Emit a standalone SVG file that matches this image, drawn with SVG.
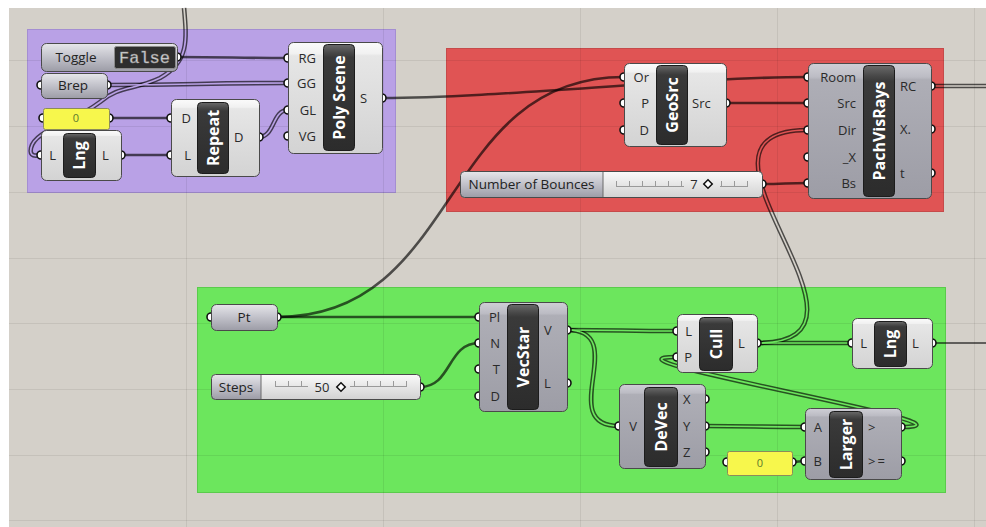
<svg xmlns="http://www.w3.org/2000/svg" xmlns:xlink="http://www.w3.org/1999/xlink" width="986" height="527" viewBox="0 0 986 527">
<style>
.lbl{font-family:'Open Sans','Liberation Sans',sans-serif;font-size:13px;fill:#2a2a2a}
.nm{font-family:'Open Sans','Liberation Sans',sans-serif;font-size:13.5px;fill:#222;text-anchor:middle}
.in{text-anchor:end}
.out{text-anchor:start}
.ttl{font-family:'Open Sans','Liberation Sans',sans-serif;font-weight:bold;font-size:16px;fill:#fff;text-anchor:middle}
.port{fill:#fff;stroke:#111;stroke-width:1.6}
.bl{fill:url(#gLight);stroke:#4a4a4a;stroke-width:1}
.bg{fill:url(#gGray);stroke:#4a4a4a;stroke-width:1}
.bp{fill:url(#gParam);stroke:#4a4a4a;stroke-width:1}
.dk{fill:url(#gDark);stroke:#1c1c1c;stroke-width:1}
.pan{fill:#f7f74c;stroke:#8c8c5a;stroke-width:1}
.pv{font-family:'Open Sans','Liberation Sans',sans-serif;font-size:11px;fill:#5c7a2c;text-anchor:middle}
.tick{fill:none;stroke:#9a9a9a;stroke-width:1}
.dia{fill:#fff;stroke:#111;stroke-width:1.5}
.grid{stroke:#000;stroke-opacity:0.07;stroke-width:1}
</style>
<defs>
<linearGradient id="gLight" x1="0" y1="0" x2="0" y2="1"><stop offset="0" stop-color="#fbfbfb"/><stop offset="0.1" stop-color="#f1f1f1"/><stop offset="0.12" stop-color="#e6e6e6"/><stop offset="1" stop-color="#d3d3d3"/></linearGradient>
<linearGradient id="gGray" x1="0" y1="0" x2="0" y2="1"><stop offset="0" stop-color="#cfcfd6"/><stop offset="0.1" stop-color="#bcbcc4"/><stop offset="0.12" stop-color="#aeaeb6"/><stop offset="1" stop-color="#9d9da6"/></linearGradient>
<linearGradient id="gParam" x1="0" y1="0" x2="0" y2="1"><stop offset="0" stop-color="#e6e6ea"/><stop offset="0.45" stop-color="#c4c4cc"/><stop offset="1" stop-color="#9c9ca6"/></linearGradient>
<linearGradient id="gDark" x1="0" y1="0" x2="0" y2="1"><stop offset="0" stop-color="#6a6a6a"/><stop offset="0.08" stop-color="#484848"/><stop offset="0.12" stop-color="#3a3a3a"/><stop offset="1" stop-color="#2c2c2c"/></linearGradient>
<linearGradient id="gSlide" x1="0" y1="0" x2="0" y2="1"><stop offset="0" stop-color="#fafafa"/><stop offset="1" stop-color="#d2d2d2"/></linearGradient>
<mask id="dmask" maskUnits="userSpaceOnUse" x="0" y="0" width="986" height="527">
<rect x="0" y="0" width="986" height="527" fill="#fff"/>
<g fill="none" stroke="#000" stroke-width="1.7">
<use href="#d1"/><use href="#d2"/><use href="#d3"/><use href="#d4"/><use href="#d5"/><use href="#d6"/><use href="#d7"/><use href="#d8"/><use href="#d9"/><use href="#d10"/>
</g>
</mask>
</defs>

<rect x="0" y="0" width="986" height="527" fill="#fff"/>
<rect x="9" y="8" width="977" height="519" fill="#d4d0c9"/>

<g id="groups">
<rect x="27.5" y="29.5" width="368" height="163" fill="#b9a1e6" stroke="#a48ed2"/>
<rect x="446.5" y="48.5" width="497" height="163" fill="#e05454" stroke="#c64a4a"/>
<rect x="197.5" y="287.5" width="748" height="205" fill="#6ce65d" stroke="#5acb4c"/>
</g>

<g id="grid" class="grid">
<line x1="186.5" y1="8" x2="186.5" y2="527"/>
<line x1="383.5" y1="8" x2="383.5" y2="527"/>
<line x1="580.5" y1="8" x2="580.5" y2="527"/>
<line x1="777.5" y1="8" x2="777.5" y2="527"/>
<line x1="974.5" y1="8" x2="974.5" y2="527"/>
<line x1="9" y1="60.5" x2="986" y2="60.5"/>
<line x1="9" y1="126.5" x2="986" y2="126.5"/>
<line x1="9" y1="192.5" x2="986" y2="192.5"/>
<line x1="9" y1="258.5" x2="986" y2="258.5"/>
<line x1="9" y1="323.5" x2="986" y2="323.5"/>
<line x1="9" y1="389.5" x2="986" y2="389.5"/>
<line x1="9" y1="455.5" x2="986" y2="455.5"/>
<line x1="9" y1="520.5" x2="986" y2="520.5"/>
</g>

<g id="connectors" fill="none">
<g stroke="#000" stroke-opacity="0.64" stroke-width="2.6">
<path d="M177 57 C230 57 235 58 288 58"/>
<path d="M109 118 C140 118 140 118 171 118"/>
<path d="M121 155 C146 155 146 155 171 155"/>
<path d="M382 98 C500 98 690 77 808 77"/>
<path d="M726 103 C767 103 767 103 808 103"/>
<path d="M762 184 C785 184 785 183 808 183"/>
<path d="M277 317 H479"/>
<path d="M277 317 C462 317 439 77 624 77"/>
<path d="M420 387 C452 387 447 343 479 343"/>
<path d="M792 462 C798 462 799 461 805 461"/>
</g>
<path d="M932 343 H986" stroke="#000" stroke-opacity="0.55" stroke-width="2.2"/>
<g stroke="#000" stroke-opacity="0.64" stroke-width="4.6" mask="url(#dmask)">
<path id="d1" d="M184 8 C187 40 189 62 160 78 C135 90 118 86 100 102 C70 125 35 130 31 148 C29 157 36 156 41 155"/>
<path id="d2" d="M107 85 C200 85 195 83 288 83"/>
<path id="d3" d="M259 137 C275 137 272 110 288 110"/>
<path id="d4" d="M931 86 H986"/>
<path id="d5" d="M757 343 C907 343 658 130 808 130"/>
<path id="d6" d="M567 330 C620 330 624 331 677 331"/>
<path id="d7" d="M567 330 C632 330 554 426 619 426"/>
<path id="d8" d="M757 343 H852"/>
<path id="d9" d="M705 426 C755 426 755 427 805 427"/>
<path id="d10" d="M901 427 C1001 427 577 357 677 357"/>
</g>
</g>

<g id="toggle">
<circle class="port" cx="177" cy="57" r="4"/>
<rect class="bp" x="41.5" y="43.5" width="136" height="28" rx="5"/>
<rect x="114.5" y="46.5" width="61" height="22" rx="2" fill="#2e2e2e" stroke="#8c8c8c"/>
<text class="nm" x="76" y="61.5">Toggle</text>
<text x="144.5" y="63" font-family="'Liberation Mono',monospace" font-size="17" fill="#dcdcdc" stroke="#8a8a8a" stroke-width="0.5" text-anchor="middle">False</text>
</g>

<g id="brep">
<circle class="port" cx="41" cy="85" r="4"/>
<circle class="port" cx="107" cy="85" r="4"/>
<rect class="bp" x="41.5" y="73.5" width="66" height="25" rx="5"/>
<text class="nm" x="73" y="90">Brep</text>
</g>

<g id="panel-zero-1">
<circle class="port" cx="43" cy="118" r="4"/>
<circle class="port" cx="109" cy="118" r="4"/>
<rect class="pan" x="43.5" y="108.5" width="66" height="21" rx="2"/>
<text class="pv" x="76" y="122">0</text>
</g>

<g id="lng-1">
<circle class="port" cx="41" cy="155" r="4"/>
<circle class="port" cx="121" cy="155" r="4"/>
<rect class="bl" x="41.5" y="130.5" width="80" height="50" rx="5"/>
<rect class="dk" x="63.5" y="133.5" width="32" height="44" rx="4"/>
<text class="lbl in" x="56" y="159.5">L</text>
<text class="lbl out" x="102" y="159.5">L</text>
<text class="ttl" transform="translate(79.5,155.5) rotate(-90)" y="5.5">Lng</text>
</g>

<g id="repeat">
<circle class="port" cx="171" cy="118" r="4"/>
<circle class="port" cx="171" cy="155" r="4"/>
<circle class="port" cx="259" cy="137" r="4"/>
<rect class="bl" x="171.5" y="99.5" width="88" height="77" rx="5"/>
<rect class="dk" x="197.5" y="102.5" width="31" height="71" rx="4"/>
<text class="lbl in" x="191" y="122.5">D</text>
<text class="lbl in" x="191" y="159.5">L</text>
<text class="lbl out" x="234" y="141.5">D</text>
<text class="ttl" transform="translate(213,138) rotate(-90)" y="5.5">Repeat</text>
</g>

<g id="poly-scene">
<circle class="port" cx="288" cy="58" r="4"/>
<circle class="port" cx="288" cy="83" r="4"/>
<circle class="port" cx="288" cy="110" r="4"/>
<circle class="port" cx="288" cy="136" r="4"/>
<circle class="port" cx="382" cy="98" r="4"/>
<rect class="bl" x="288.5" y="42.5" width="94" height="111" rx="5"/>
<rect class="dk" x="323.5" y="44.5" width="31" height="106" rx="4"/>
<text class="lbl in" x="316" y="62.5">RG</text>
<text class="lbl in" x="316" y="87.5">GG</text>
<text class="lbl in" x="316" y="114.5">GL</text>
<text class="lbl in" x="316" y="140.5">VG</text>
<text class="lbl out" x="360" y="102.5">S</text>
<text class="ttl" transform="translate(339,97.5) rotate(-90)" y="5.5">Poly Scene</text>
</g>

<g id="geosrc">
<circle class="port" cx="624" cy="77" r="4"/>
<circle class="port" cx="624" cy="103" r="4"/>
<circle class="port" cx="624" cy="130" r="4"/>
<circle class="port" cx="726" cy="103" r="4"/>
<rect class="bl" x="624.5" y="63.5" width="102" height="83" rx="5"/>
<rect class="dk" x="656.5" y="65.5" width="31" height="79" rx="4"/>
<text class="lbl in" x="649" y="81.5">Or</text>
<text class="lbl in" x="649" y="107.5">P</text>
<text class="lbl in" x="649" y="134.5">D</text>
<text class="lbl out" x="692" y="107.5">Src</text>
<text class="ttl" transform="translate(672,105) rotate(-90)" y="5.5">GeoSrc</text>
</g>

<g id="pachvisrays">
<circle class="port" cx="808" cy="77" r="4"/>
<circle class="port" cx="808" cy="103" r="4"/>
<circle class="port" cx="808" cy="130" r="4"/>
<circle class="port" cx="808" cy="157" r="4"/>
<circle class="port" cx="808" cy="183" r="4"/>
<circle class="port" cx="931" cy="86" r="4"/>
<circle class="port" cx="931" cy="129" r="4"/>
<circle class="port" cx="931" cy="173" r="4"/>
<rect class="bg" x="808.5" y="63.5" width="123" height="135" rx="5"/>
<rect class="dk" x="863.5" y="65.5" width="31" height="131" rx="4"/>
<text class="lbl in" x="856" y="81.5">Room</text>
<text class="lbl in" x="856" y="107.5">Src</text>
<text class="lbl in" x="856" y="134.5">Dir</text>
<text class="lbl in" x="856" y="161.5">_X</text>
<text class="lbl in" x="856" y="187.5">Bs</text>
<text class="lbl out" x="900" y="90.5">RC</text>
<text class="lbl out" x="900" y="133.5">X.</text>
<text class="lbl out" x="900" y="177.5">t</text>
<text class="ttl" transform="translate(879,131) rotate(-90)" y="5.5">PachVisRays</text>
</g>

<g id="slider-bounces">
<circle class="port" cx="762" cy="184" r="4"/>
<rect x="460.5" y="171.5" width="302" height="26" rx="4" fill="url(#gSlide)"/>
<path d="M603 171.5 H464.5 a4 4 0 0 0 -4 4 V193.5 a4 4 0 0 0 4 4 H603 Z" fill="url(#gParam)"/>
<line x1="603" y1="171.5" x2="603" y2="197.5" stroke="#6a6a6a"/>
<rect x="460.5" y="171.5" width="302" height="26" rx="4" fill="none" stroke="#4a4a4a"/>
<path class="tick" d="M616 186.5 H684 M720 186.5 H748 M616.5 181 V186.5 M629.5 181 V186.5 M642.5 181 V186.5 M655.5 181 V186.5 M668.5 181 V186.5 M681.5 181 V186.5 M721.5 181 V186.5 M734.5 181 V186.5 M747.5 181 V186.5"/>
<text class="nm" x="531.5" y="188.5">Number of Bounces</text>
<text class="lbl" x="694" y="189" text-anchor="middle">7</text>
<rect class="dia" x="705" y="181" width="6" height="6" transform="rotate(45 708 184)"/>
</g>

<g id="pt">
<circle class="port" cx="211" cy="317" r="4"/>
<circle class="port" cx="277" cy="317" r="4"/>
<rect class="bp" x="211.5" y="304.5" width="66" height="26" rx="5"/>
<text class="nm" x="244" y="321.5">Pt</text>
</g>

<g id="slider-steps">
<circle class="port" cx="420" cy="387" r="4"/>
<rect x="211.5" y="374.5" width="209" height="25" rx="4" fill="url(#gSlide)"/>
<path d="M261 374.5 H215.5 a4 4 0 0 0 -4 4 V395.5 a4 4 0 0 0 4 4 H261 Z" fill="url(#gParam)"/>
<line x1="261" y1="374.5" x2="261" y2="399.5" stroke="#6a6a6a"/>
<rect x="211.5" y="374.5" width="209" height="25" rx="4" fill="none" stroke="#4a4a4a"/>
<path class="tick" d="M275 386.5 H308 M350 386.5 H407 M275.5 381 V386.5 M288.5 381 V386.5 M301.5 381 V386.5 M354.5 381 V386.5 M367.5 381 V386.5 M380.5 381 V386.5 M393.5 381 V386.5 M406.5 381 V386.5"/>
<text class="nm" x="236" y="391.5">Steps</text>
<text class="lbl" x="322" y="391.5" text-anchor="middle">50</text>
<rect class="dia" x="338" y="384" width="6" height="6" transform="rotate(45 341 387)"/>
</g>

<g id="vecstar">
<circle class="port" cx="479" cy="317" r="4"/>
<circle class="port" cx="479" cy="343" r="4"/>
<circle class="port" cx="479" cy="369" r="4"/>
<circle class="port" cx="479" cy="396" r="4"/>
<circle class="port" cx="567" cy="330" r="4"/>
<circle class="port" cx="567" cy="383" r="4"/>
<rect class="bg" x="479.5" y="302.5" width="88" height="109" rx="5"/>
<rect class="dk" x="507.5" y="304.5" width="31" height="105" rx="4"/>
<text class="lbl in" x="500" y="321.5">Pl</text>
<text class="lbl in" x="500" y="347.5">N</text>
<text class="lbl in" x="500" y="373.5">T</text>
<text class="lbl in" x="500" y="400.5">D</text>
<text class="lbl out" x="544" y="334.5">V</text>
<text class="lbl out" x="544" y="387.5">L</text>
<text class="ttl" transform="translate(523,357) rotate(-90)" y="5.5">VecStar</text>
</g>

<g id="cull">
<circle class="port" cx="677" cy="331" r="4"/>
<circle class="port" cx="677" cy="357" r="4"/>
<circle class="port" cx="757" cy="343" r="4"/>
<rect class="bl" x="677.5" y="314.5" width="80" height="58" rx="5"/>
<rect class="dk" x="699.5" y="317.5" width="33" height="53" rx="4"/>
<text class="lbl in" x="692" y="335.5">L</text>
<text class="lbl in" x="692" y="361.5">P</text>
<text class="lbl out" x="738" y="347.5">L</text>
<text class="ttl" transform="translate(716,344) rotate(-90)" y="5.5">Cull</text>
</g>

<g id="lng-2">
<circle class="port" cx="852" cy="343" r="4"/>
<circle class="port" cx="932" cy="343" r="4"/>
<rect class="bl" x="852.5" y="318.5" width="80" height="50" rx="5"/>
<rect class="dk" x="874.5" y="321.5" width="32" height="45" rx="4"/>
<text class="lbl in" x="867" y="347.5">L</text>
<text class="lbl out" x="912" y="347.5">L</text>
<text class="ttl" transform="translate(890.5,344) rotate(-90)" y="5.5">Lng</text>
</g>

<g id="devec">
<circle class="port" cx="619" cy="426" r="4"/>
<circle class="port" cx="705" cy="399" r="4"/>
<circle class="port" cx="705" cy="426" r="4"/>
<circle class="port" cx="705" cy="452" r="4"/>
<rect class="bg" x="619.5" y="384.5" width="86" height="84" rx="5"/>
<rect class="dk" x="644.5" y="387.5" width="33" height="79" rx="4"/>
<text class="lbl in" x="637" y="430.5">V</text>
<text class="lbl out" x="683" y="403.5">X</text>
<text class="lbl out" x="683" y="430.5">Y</text>
<text class="lbl out" x="683" y="456.5">Z</text>
<text class="ttl" transform="translate(661,427) rotate(-90)" y="5.5">DeVec</text>
</g>

<g id="larger">
<circle class="port" cx="805" cy="427" r="4"/>
<circle class="port" cx="805" cy="461" r="4"/>
<circle class="port" cx="901" cy="427" r="4"/>
<circle class="port" cx="901" cy="461" r="4"/>
<rect class="bg" x="805.5" y="408.5" width="96" height="71" rx="5"/>
<rect class="dk" x="829.5" y="411.5" width="33" height="66" rx="4"/>
<text class="lbl in" x="822" y="431.5">A</text>
<text class="lbl in" x="822" y="465.5">B</text>
<text class="lbl out" x="868" y="431.5">&gt;</text>
<text class="lbl out" x="868" y="465.5" letter-spacing="2">&gt;=</text>
<text class="ttl" transform="translate(846,444.5) rotate(-90)" y="5.5">Larger</text>
</g>

<g id="panel-zero-2">
<circle class="port" cx="727" cy="462" r="4"/>
<circle class="port" cx="792" cy="462" r="4"/>
<rect class="pan" x="727.5" y="451.5" width="65" height="24" rx="2"/>
<text class="pv" x="760" y="467">0</text>
</g>
</svg>
